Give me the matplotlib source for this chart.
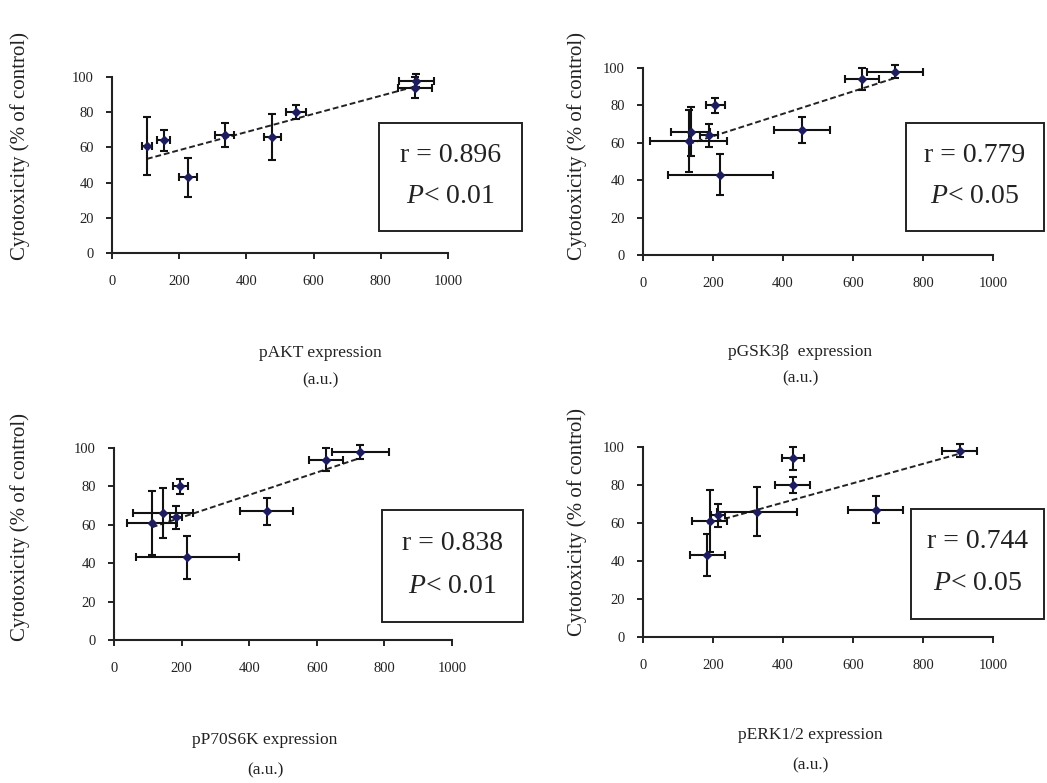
import numpy as np
import matplotlib
matplotlib.use("Agg")
import matplotlib.pyplot as plt
from matplotlib.patches import Rectangle

plt.rcParams['font.family'] = ['Liberation Serif', 'DejaVu Serif']
plt.rcParams['mathtext.fontset'] = 'custom'
plt.rcParams['mathtext.it'] = 'Liberation Serif:italic'
plt.rcParams['mathtext.rm'] = 'Liberation Serif'

# cytotoxicity (% of control), same samples in every panel
cyto = [61, 64, 43, 66, 67, 80, 94, 98]
cyto_err = [16.5, 6, 11, 13, 7, 4, 6, 3.5]

akt = [104, 154, 226, 477, 335, 547, 902, 905]
akt_err = [15, 20, 27, 25, 27, 30, 50, 52]

gsk = [130, 188, 221, 136, 454, 207, 626, 720]
gsk_err = [110, 25, 151, 56, 80, 27, 48, 80]

p70 = [112, 183, 217, 145, 452, 196, 627, 729]
p70_err = [75, 18, 153, 88, 78, 22, 50, 85]

erk = [190, 215, 184, 325, 665, 428, 428, 905]
erk_err = [50, 20, 49, 114, 78, 50, 31, 50]

labels = ["pAKT expression", "pGSK3\u03b2  expression", "pP70S6K expression", "pERK1/2 expression"]
r_text = ["r = 0.896", "r = 0.779", "r = 0.838", "r = 0.744"]
p_text = ["0.01", "0.05", "0.01", "0.05"]

xs = [akt, gsk, p70, erk]
xerrs = [akt_err, gsk_err, p70_err, erk_err]

W, H = 1047, 783
fig = plt.figure(figsize=(W / 100, H / 100), dpi=100)

# axes rects in pixels: x0, x1000, y0, y100
rects = [(112, 448, 253, 77), (643, 993, 255, 68), (114, 452, 640, 448), (643, 993, 637, 447)]
boxes = [(379, 123, 522, 231), (906, 123, 1044, 231), (382, 510, 523, 622), (911, 509, 1044, 619)]
xlab = [(320, 353, 380), (800, 352, 378), (265, 740, 770), (810, 735, 765)]
ylab = [(20, 146), (577, 146), (20, 527), (577, 522)]

for i in range(4):
    x0, x1, y0, y1 = rects[i]
    ax = fig.add_axes([x0 / W, 1 - y0 / H, (x1 - x0) / W, (y0 - y1) / H])
    ax.errorbar(xs[i], cyto, xerr=xerrs[i], yerr=cyto_err, fmt='D', ms=4,
                mfc='#1c1c5e', mec='#1c1c5e', ecolor='#111111', elinewidth=1.5,
                capsize=3, capthick=1.5, clip_on=False, zorder=3)
    k, b = np.polyfit(xs[i], cyto, 1)
    fx = np.array([min(xs[i]), max(xs[i])])
    ax.plot(fx, k * fx + b, color='#222222', lw=1.4, dashes=(3, 1.5), zorder=2)
    ax.set_xlim(0, 1000)
    ax.set_ylim(0, 100)
    ax.set_xticks(range(0, 1001, 200))
    ax.set_yticks(range(0, 101, 20))
    for s in ['top', 'right']:
        ax.spines[s].set_visible(False)
    for s in ['left', 'bottom']:
        ax.spines[s].set_linewidth(1.5)
        ax.spines[s].set_color('#222222')
    ax.tick_params(direction='out', length=4, width=1.4, labelsize=10.5,
                   colors='#222222')
    ax.tick_params(axis='x', pad=12)
    ax.tick_params(axis='y', pad=9)

    bx0, by0, bx1, by1 = boxes[i]
    fig.add_artist(Rectangle((bx0 / W, 1 - by1 / H), (bx1 - bx0) / W, (by1 - by0) / H,
                             transform=fig.transFigure, fill=False, lw=1.4,
                             ec='#222222'))
    cx = (bx0 + bx1) / 2 / W
    fig.text(cx, 1 - (by0 + 0.3 * (by1 - by0)) / H, r_text[i], ha='center',
             va='center', fontsize=20, color='#222222')
    fig.text(cx, 1 - (by0 + 0.68 * (by1 - by0)) / H,
             r"$\it{P}$" + "< " + p_text[i], ha='center', va='center',
             fontsize=20, color='#222222')

    lx, ly1, ly2 = xlab[i]
    fig.text(lx / W, 1 - ly1 / H, labels[i], ha='center', va='center',
             fontsize=12.5, color='#222222')
    fig.text(lx / W, 1 - ly2 / H, "(a.u.)", ha='center', va='center',
             fontsize=12.5, color='#222222')
    yx, yy = ylab[i]
    fig.text(yx / W, 1 - yy / H, "Cytotoxicity (% of control)", rotation=90,
             ha='center', va='center', fontsize=15, color='#222222')

fig.savefig("out.png", dpi=100)
